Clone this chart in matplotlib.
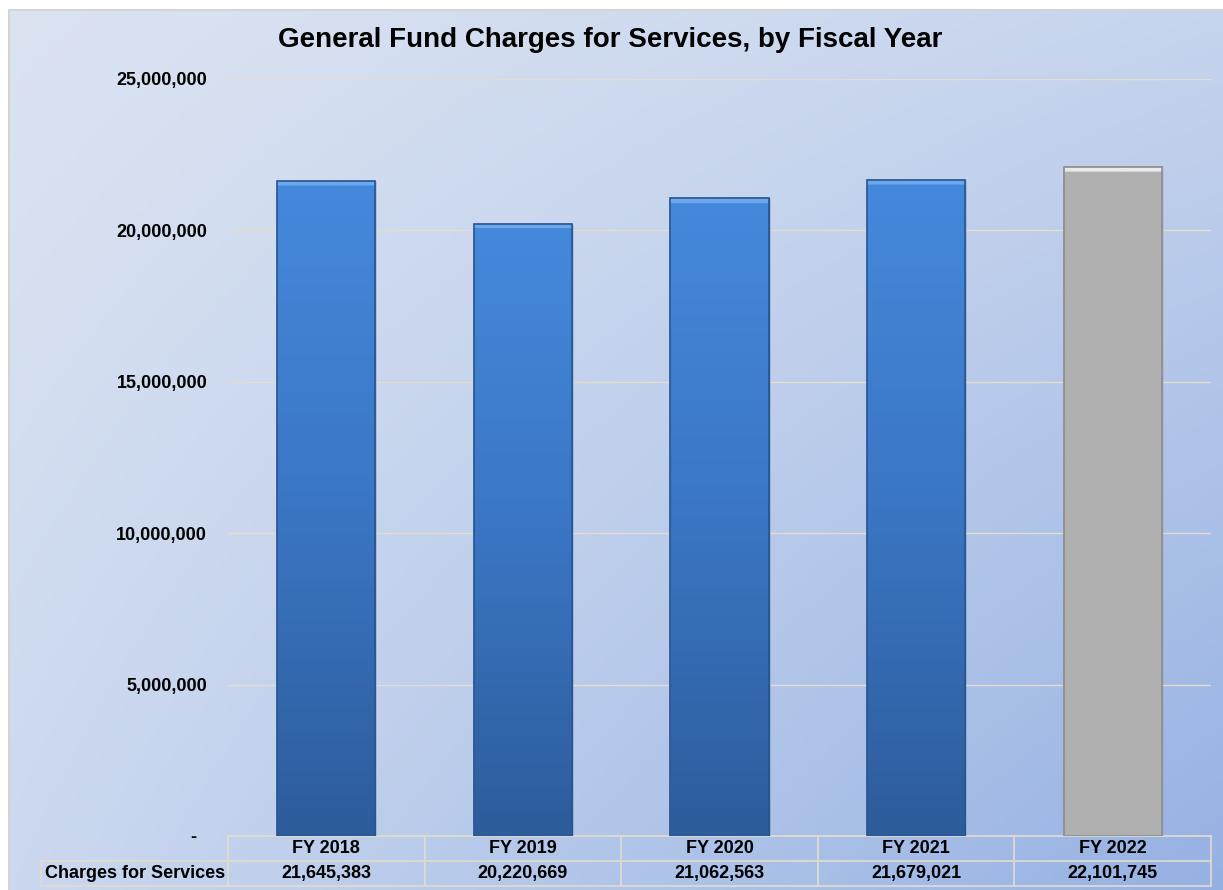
import numpy as np
import matplotlib
matplotlib.use("Agg")
import matplotlib.pyplot as plt
from matplotlib.colors import LinearSegmentedColormap
from matplotlib.patches import Rectangle
from matplotlib.ticker import FuncFormatter

plt.rcParams['font.family'] = ['Liberation Sans', 'DejaVu Sans']
plt.rcParams['font.weight'] = 'bold'

# data
years = ["FY 2018", "FY 2019", "FY 2020", "FY 2021", "FY 2022"]
charges = [21645383, 20220669, 21062563, 21679021, 22101745]
row_label = "Charges for Services"
title = "General Fund Charges for Services, by Fiscal Year"

W, H = 1223, 890
fig = plt.figure(figsize=(W / 100, H / 100), dpi=100)
fig.patch.set_facecolor("white")

# chart area background (diagonal gradient)
bg = fig.add_axes([9 / W, 0, (W - 9) / W, (H - 10) / H], zorder=0)
gx, gy = np.meshgrid(np.linspace(0, 1, 200), np.linspace(0, 1, 200))
c_tl = np.array([0xdc, 0xe4, 0xf2]) / 255
c_tr = np.array([0xc6, 0xd4, 0xed]) / 255
c_bl = np.array([0xcb, 0xd8, 0xef]) / 255
c_br = np.array([0x95, 0xb1, 0xe3]) / 255
img = ((1 - gx)[..., None] * (1 - gy)[..., None] * c_tl + gx[..., None] * (1 - gy)[..., None] * c_tr
       + (1 - gx)[..., None] * gy[..., None] * c_bl + gx[..., None] * gy[..., None] * c_br)
bg.imshow(img, aspect="auto", extent=[0, 1, 0, 1], origin="upper")
bg.set_xlim(0, 1)
bg.set_ylim(0, 1)
bg.axis("off")
# border only on top and left (chart runs off the right/bottom edge)
bg.plot([0, 0, 1], [0, 1, 1], color="#d4d4d4", lw=1.5, transform=bg.transAxes, clip_on=False)

ax = fig.add_axes([228 / W, 1 - 836 / H, (1211 - 228) / W, (836 - 79) / H], zorder=1)
ax.set_facecolor("none")

x = np.arange(len(years))
colors = ["#3c78c8"] * 4 + ["#b0b0b0"]
edges = ["#2a5590"] * 4 + ["#8c8c8c"]
bars = ax.bar(x, charges, width=0.5, color=colors, edgecolor=edges, lw=1, zorder=3)

blue = LinearSegmentedColormap.from_list("b", ["#2d5c9b", "#3a76c4", "#4589dc"])
n = 600
grad = np.linspace(0, 1, n)[:, None]
for i, b in enumerate(bars):
    if i == 4:
        g = np.ones((n, 1, 3)) * 0xb0 / 255
        g[-5:] = np.array([0xea, 0xea, 0xea]) / 255
    else:
        g = blue(grad)[..., :3].copy()
        g[-5:] = np.array([0x6c, 0xa8, 0xee]) / 255
    im = ax.imshow(g, aspect="auto", origin="lower", zorder=3.5,
                   extent=[b.get_x(), b.get_x() + b.get_width(), 0, b.get_height()])
    im.set_clip_path(b)
    ax.add_patch(Rectangle((b.get_x(), 0), b.get_width(), b.get_height(), fill=False,
                           edgecolor=edges[i], lw=1.2, zorder=4))

ax.set_xlim(-0.5, len(years) - 0.5)
ax.set_ylim(0, 25000000)
ax.set_yticks(np.arange(0, 25000001, 5000000))
ax.yaxis.set_major_formatter(FuncFormatter(lambda v, p: "-  " if v == 0 else f"{int(v):,}"))
ax.tick_params(axis="y", length=0, pad=15, labelsize=13)
ax.set_xticks([])
for s in ax.spines.values():
    s.set_visible(False)
ax.grid(axis="y", color="#e2ddcc", lw=1, zorder=1)

# data table below the axis
tr = ax.get_xaxis_transform()
r1 = -25 / 757
r2 = -50 / 757
lab_left = -0.5 - 187 / 197
line_kw = dict(color="#e2ddcc", lw=1.2, transform=tr, clip_on=False, zorder=2)
ax.plot([-0.5, len(years) - 0.5], [0, 0], **line_kw)
ax.plot([lab_left, len(years) - 0.5], [r1, r1], **line_kw)
ax.plot([lab_left, len(years) - 0.5], [r2, r2], **line_kw)
ax.plot([lab_left, lab_left], [r1, r2], **line_kw)
for k in range(len(years) + 1):
    ax.plot([k - 0.5, k - 0.5], [0, r2], **line_kw)
for k, (yr, v) in enumerate(zip(years, charges)):
    ax.text(k, r1 / 2, yr, transform=tr, ha="center", va="center", fontsize=13, fontweight="bold")
    ax.text(k, (r1 + r2) / 2, f"{v:,}", transform=tr, ha="center", va="center",
            fontsize=13, fontweight="bold")
ax.text((lab_left - 0.5) / 2, (r1 + r2) / 2, row_label, transform=tr, ha="center", va="center",
        fontsize=13, fontweight="bold")

fig.text(610 / W, 1 - 40 / H, title, ha="center", va="center", fontsize=20, fontweight="bold")

fig.savefig("out.png", dpi=100)
